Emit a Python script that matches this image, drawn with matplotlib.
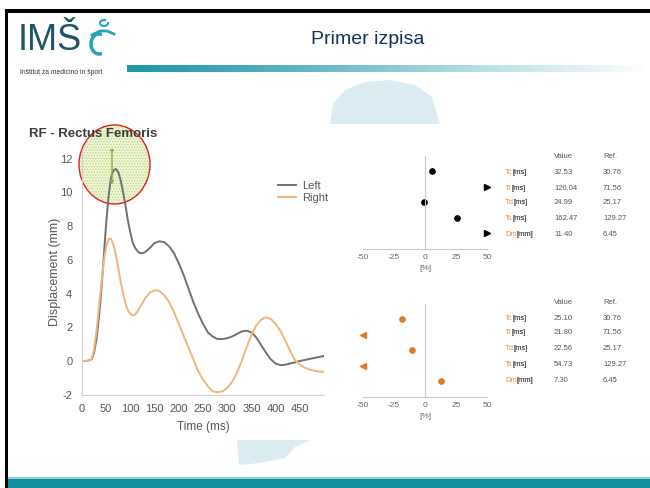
import matplotlib
matplotlib.use("Agg")
import matplotlib.pyplot as plt
import numpy as np
from matplotlib.patches import Ellipse, Rectangle, Polygon, FancyArrowPatch
from matplotlib.lines import Line2D
from matplotlib.colors import LinearSegmentedColormap

plt.rcParams['font.family'] = ['Liberation Sans', 'DejaVu Sans']
plt.rcParams['axes.unicode_minus'] = False
plt.rcParams['hatch.linewidth'] = 0.6

# ---------------- data ----------------
time_ms = [0, 10, 20, 25, 30, 35, 40, 45, 50, 55, 60, 65, 70, 75, 80, 85, 90, 95, 100,
           105, 110, 115, 120, 125, 130, 140, 150, 160, 170, 180, 190, 200, 210, 220,
           230, 240, 250, 260, 270, 280, 290, 300, 310, 320, 330, 340, 350, 360, 370,
           380, 390, 400, 410, 420, 430, 440, 450, 460, 470, 480, 490, 500]
left_mm = [0, 0, 0.1, 0.5, 1.3, 2.6, 4.2, 6.2, 8.2, 9.8, 10.9, 11.3, 11.4, 11.2, 10.7,
           10.0, 9.2, 8.3, 7.6, 7.0, 6.7, 6.5, 6.4, 6.4, 6.45, 6.7, 7.0, 7.1, 7.05, 6.8,
           6.4, 5.8, 5.1, 4.3, 3.5, 2.8, 2.2, 1.7, 1.45, 1.3, 1.3, 1.35, 1.45, 1.6, 1.75,
           1.8, 1.7, 1.4, 0.95, 0.5, 0.1, -0.15, -0.25, -0.22, -0.15, -0.08, 0.0, 0.06,
           0.12, 0.18, 0.24, 0.3]
right_mm = [0, 0, 0.1, 0.7, 1.8, 3.2, 4.6, 5.9, 6.8, 7.25, 7.25, 6.9, 6.3, 5.5, 4.7, 4.0,
            3.4, 3.0, 2.8, 2.7, 2.75, 2.95, 3.2, 3.45, 3.7, 4.05, 4.2, 4.15, 3.9, 3.5,
            2.9, 2.2, 1.5, 0.8, 0.1, -0.6, -1.1, -1.5, -1.8, -1.85, -1.8, -1.6, -1.25,
            -0.7, 0.0, 0.8, 1.55, 2.1, 2.45, 2.6, 2.5, 2.2, 1.8, 1.2, 0.6, 0.05, -0.2,
            -0.4, -0.5, -0.58, -0.63, -0.65]

params = ["Tc", "Tr", "Td", "Ts", "Dm"]
units = ["[ms]", "[ms]", "[ms]", "[ms]", "[mm]"]
left_values = [32.53, 120.04, 24.99, 162.47, 11.40]
right_values = [25.10, 21.80, 22.56, 54.73, 7.30]
ref_values = [30.76, 71.56, 25.17, 129.27, 6.45]
pct_ticks = [-50, -25, 0, 25, 50]

W, H = 650, 488
fig = plt.figure(figsize=(6.5, 4.88), dpi=100)
fig.patch.set_facecolor('white')

def fx(x):
    return np.asarray(x) / W

def fy(y):
    return 1 - np.asarray(y) / H

# ---------------- slide decoration ----------------
fig.add_artist(Rectangle((fx(5), 0), fx(3), fy(10), transform=fig.transFigure,
                         color='black', lw=0, zorder=5))
fig.add_artist(Rectangle((fx(5), fy(12.5)), 1, 3 / H, transform=fig.transFigure,
                         color='black', lw=0, zorder=5))
fig.add_artist(Rectangle((fx(8), 0), 1, 9.5 / H, transform=fig.transFigure,
                         color='#12909f', lw=0, zorder=5))
fig.add_artist(Rectangle((fx(8), 9.5 / H), 1, 1.5 / H, transform=fig.transFigure,
                         color='#8fcdd5', lw=0, zorder=5))
grad = np.linspace(0, 1, 256).reshape(1, -1)
gax = fig.add_axes([fx(127), fy(72), fx(650 - 127), 7 / H])
cmap = LinearSegmentedColormap.from_list('g', ['#1b97a6', '#5fb4c0', '#b6dde3', '#ffffff'])
gax.imshow(grad, aspect='auto', cmap=cmap)
gax.axis('off')

fig.add_artist(Polygon(list(zip(fx([330, 333, 345, 365, 390, 415, 432, 440]),
                                fy([124, 104, 90, 82, 80, 85, 97, 124]))), closed=True,
                       transform=fig.transFigure, color='#dbedf2', lw=0, zorder=0))
fig.add_artist(Polygon(list(zip(fx([237, 310, 295, 285, 260, 239]),
                                fy([440, 440, 447, 458, 463, 465]))), closed=True,
                       transform=fig.transFigure, color='#dbedf2', lw=0, zorder=0))

# logo
fig.text(fx(18), fy(41), "IMŠ", fontsize=26, color='#1d5566', va='center', ha='left',
         fontfamily='Liberation Sans')
th = np.linspace(0.45 * np.pi, 1.55 * np.pi, 50)
fig.add_artist(Line2D(fx(99 + 8 * np.cos(th)), fy(44 + 10 * np.sin(th)),
                      transform=fig.transFigure, color='#2aa3b3', lw=2.5))
fig.add_artist(Line2D(fx([92, 100, 107, 114]), fy([35, 31, 31, 34]),
                      transform=fig.transFigure, color='#2aa3b3', lw=2))
th2 = np.linspace(0, 1.6 * np.pi, 40)
fig.add_artist(Line2D(fx(104 + 4 * np.cos(th2)), fy(23 + 3 * np.sin(th2)),
                      transform=fig.transFigure, color='#2aa3b3', lw=1.5))
fig.text(fx(20), fy(73), "Inštitut za medicino in šport", fontsize=4.9, color='#333333',
         va='center', ha='left')

fig.text(fx(368), fy(40), "Primer izpisa", fontsize=14, color='#14325c',
         va='center', ha='center')

# ---------------- main chart ----------------
ax = fig.add_axes([fx(82), fy(394.7), fx(242), (394.7 - 148.6) / H])
ax.set_zorder(2)
ax.plot(time_ms, left_mm, color='#707070', lw=1.4, label='Left')
ax.plot(time_ms, right_mm, color='#f2b57a', lw=1.4, label='Right')
ax.set_xlim(0, 500)
ax.set_ylim(-2, 12.6)
ax.set_xticks([0, 50, 100, 150, 200, 250, 300, 350, 400, 450])
ax.set_yticks([-2, 0, 2, 4, 6, 8, 10, 12])
for s in ['top', 'right']:
    ax.spines[s].set_visible(False)
for s in ['left', 'bottom']:
    ax.spines[s].set_color('#d0d0d0')
    ax.spines[s].set_linewidth(0.8)
ax.tick_params(length=0, labelsize=8, labelcolor='#555555', pad=7)
ax.set_xlabel("Time (ms)", fontsize=8.5, color='#555555', labelpad=5)
ax.set_ylabel("Displacement (mm)", fontsize=9, color='#555555', labelpad=-1)
ax.patch.set_alpha(0)
leg = ax.legend(loc='upper left', bbox_to_anchor=(fx(268), fy(171)),
                bbox_transform=fig.transFigure, frameon=False, fontsize=8,
                handlelength=1.6, handletextpad=0.6, labelspacing=0.2)
for t in leg.get_texts():
    t.set_color('#555555')
fig.text(fx(29), fy(134), "RF - Rectus Femoris", fontsize=9.5, fontweight='bold',
         color='#3a3a3a', va='center', ha='left', zorder=3)

# marker circle (under the curves)
fig.add_artist(Ellipse((fx(114.5), fy(164.5)), 71 / W, 79 / H, transform=fig.transFigure,
                       facecolor='#eef5d8', edgecolor='#b8d86e', lw=0, hatch='......',
                       zorder=1))
fig.add_artist(Ellipse((fx(114.5), fy(164.5)), 71 / W, 79 / H, transform=fig.transFigure,
                       fill=False, edgecolor='#e02020', lw=1.0, zorder=1.1))
ax.add_patch(FancyArrowPatch((62, 10.3), (62, 12.9), arrowstyle='<|-|>',
                             mutation_scale=5, color='#7cb342', lw=1.0, zorder=7))

# ---------------- dot plots and tables ----------------
def dot_panel(bottom_px, values, color):
    pa = fig.add_axes([fx(363), fy(bottom_px), fx(124), 93 / H])
    rows = [5, 4, 3, 2, 1]
    for i, (v, r) in enumerate(zip(values, ref_values)):
        p = (v - r) / r * 100
        if p > 50:
            pa.plot([50], [rows[i]], marker='>', color=color, ms=4, clip_on=False)
        elif p < -50:
            pa.plot([-50], [rows[i]], marker='<', color=color, ms=4, clip_on=False)
        else:
            pa.plot([p], [rows[i]], marker='o', color=color, ms=3.8, clip_on=False)
    pa.set_xlim(-50, 50)
    pa.set_ylim(0, 6)
    pa.spines['top'].set_visible(False)
    pa.spines['right'].set_visible(False)
    pa.spines['left'].set_position(('data', 0))
    for s in ['left', 'bottom']:
        pa.spines[s].set_color('#c8c8c8')
        pa.spines[s].set_linewidth(0.8)
    pa.set_yticks([])
    pa.set_xticks(pct_ticks)
    pa.set_xticklabels([str(t) for t in pct_ticks])
    pa.tick_params(length=0, labelsize=6, labelcolor='#666666', pad=4)
    pa.set_xlabel("[%]", fontsize=6, color='#666666', labelpad=3)
    pa.patch.set_alpha(0)
    return pa

def table(header_y, row_ys, values):
    fig.text(fx(554), fy(header_y), "Value", fontsize=5.5, color='#555555', va='center')
    fig.text(fx(603), fy(header_y), "Ref.", fontsize=5.5, color='#555555', va='center')
    for p, u, v, r, y in zip(params, units, values, ref_values, row_ys):
        t = fig.text(fx(505), fy(y), p, fontsize=5.5, color='#e8924a', va='center')
        ann = plt.annotate(u, xy=(1, 0.5), xycoords=t, va='center', ha='left',
                           fontsize=5.5, color='#555555', annotation_clip=False)
        fig.add_artist(ann)
        fig.text(fx(554), fy(y), f"{v:.2f}", fontsize=5.5, color='#555555', va='center')
        fig.text(fx(603), fy(y), f"{r:.2f}", fontsize=5.5, color='#555555', va='center')

dot_panel(248.5, left_values, 'black')
dot_panel(396.5, right_values, '#e07a25')
table(156, [172, 188, 203, 219, 235], left_values)
table(303, [318, 333, 349, 364, 380], right_values)

fig.savefig("out.png", dpi=100)
